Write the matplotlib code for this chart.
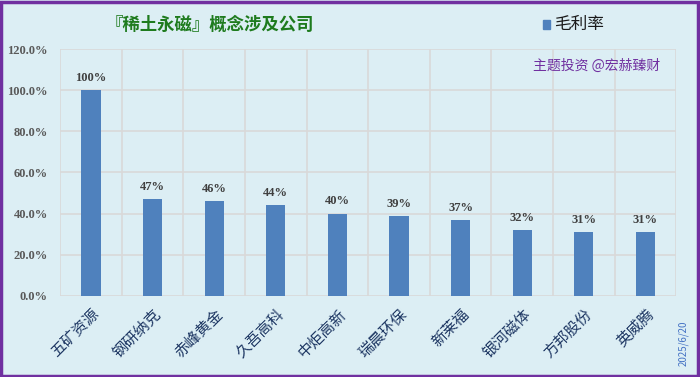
import matplotlib.pyplot as plt
from matplotlib.patches import Rectangle

plt.rcParams['font.family'] = ['Noto Sans CJK SC', 'DejaVu Sans']

companies = ['五矿资源', '钢研纳克', '赤峰黄金', '久吾高科', '中炬高新',
             '瑞晨环保', '新莱福', '银河磁体', '方邦股份', '英威腾']
gross_margin = [100, 47, 46, 44, 40, 39, 37, 32, 31, 31]
value_labels = ['100%', '47%', '46%', '44%', '40%', '39%', '37%', '32%', '31%', '31%']
y_ticks = [0, 20, 40, 60, 80, 100, 120]

bg = '#DCEEF4'
bar_color = '#4F81BD'

fig = plt.figure(figsize=(7, 3.77), dpi=100, facecolor=bg)
fig.patches.append(Rectangle((0.002, 0.003), 0.995, 0.993, transform=fig.transFigure,
                             fill=False, edgecolor='#7030A0', linewidth=2.5))

ax = fig.add_axes([0.086, 0.215, 0.880, 0.655])
ax.set_facecolor(bg)

x = range(len(companies))
ax.bar(x, gross_margin, width=0.31, color=bar_color, zorder=3)
for i, (v, lab) in enumerate(zip(gross_margin, value_labels)):
    ax.text(i, v + 3, lab, ha='center', va='bottom', fontsize=9,
            fontweight='bold', family='Liberation Serif', color='#404040')

ax.set_xlim(-0.5, len(companies) - 0.5)
ax.set_ylim(0, 120)
ax.set_yticks(y_ticks)
ax.set_yticklabels([f'{t:.1f}%' for t in y_ticks], family='Liberation Serif',
                   fontweight='bold', fontsize=9, color='#595959')
ax.set_xticks([i - 0.5 for i in range(len(companies) + 1)], minor=False)
ax.set_xticklabels([])
ax.set_xticks(list(x), minor=True)
ax.set_xticklabels(companies, minor=True, rotation=45, ha='right',
                   rotation_mode='anchor', fontsize=11, color='#1F3864')
ax.tick_params(axis='both', which='both', length=0)
ax.tick_params(axis='x', which='minor', pad=7)
ax.tick_params(axis='y', pad=9)
ax.grid(True, color='#D9D9D9', linewidth=1.2, zorder=0)
for s in ax.spines.values():
    s.set_visible(False)

fig.text(0.30, 0.935, '『稀土永磁』概念涉及公司', ha='center', va='center',
         fontsize=12.5, fontweight='bold', color='#1E7B1E')
fig.patches.append(Rectangle((0.776, 0.922), 0.010, 0.026, transform=fig.transFigure,
                             color=bar_color))
fig.text(0.791, 0.935, '毛利率', ha='left', va='center', fontsize=12, color='#1a1a1a')
fig.text(0.943, 0.825, '主题投资 @宏赫臻财', ha='right', va='center',
         fontsize=10, color='#7030A0')
fig.text(0.976, 0.03, '2025/6/20', rotation=90, ha='center', va='bottom',
         fontsize=7, color='#4472C4')

fig.savefig('out.png', dpi=100, facecolor=bg)
